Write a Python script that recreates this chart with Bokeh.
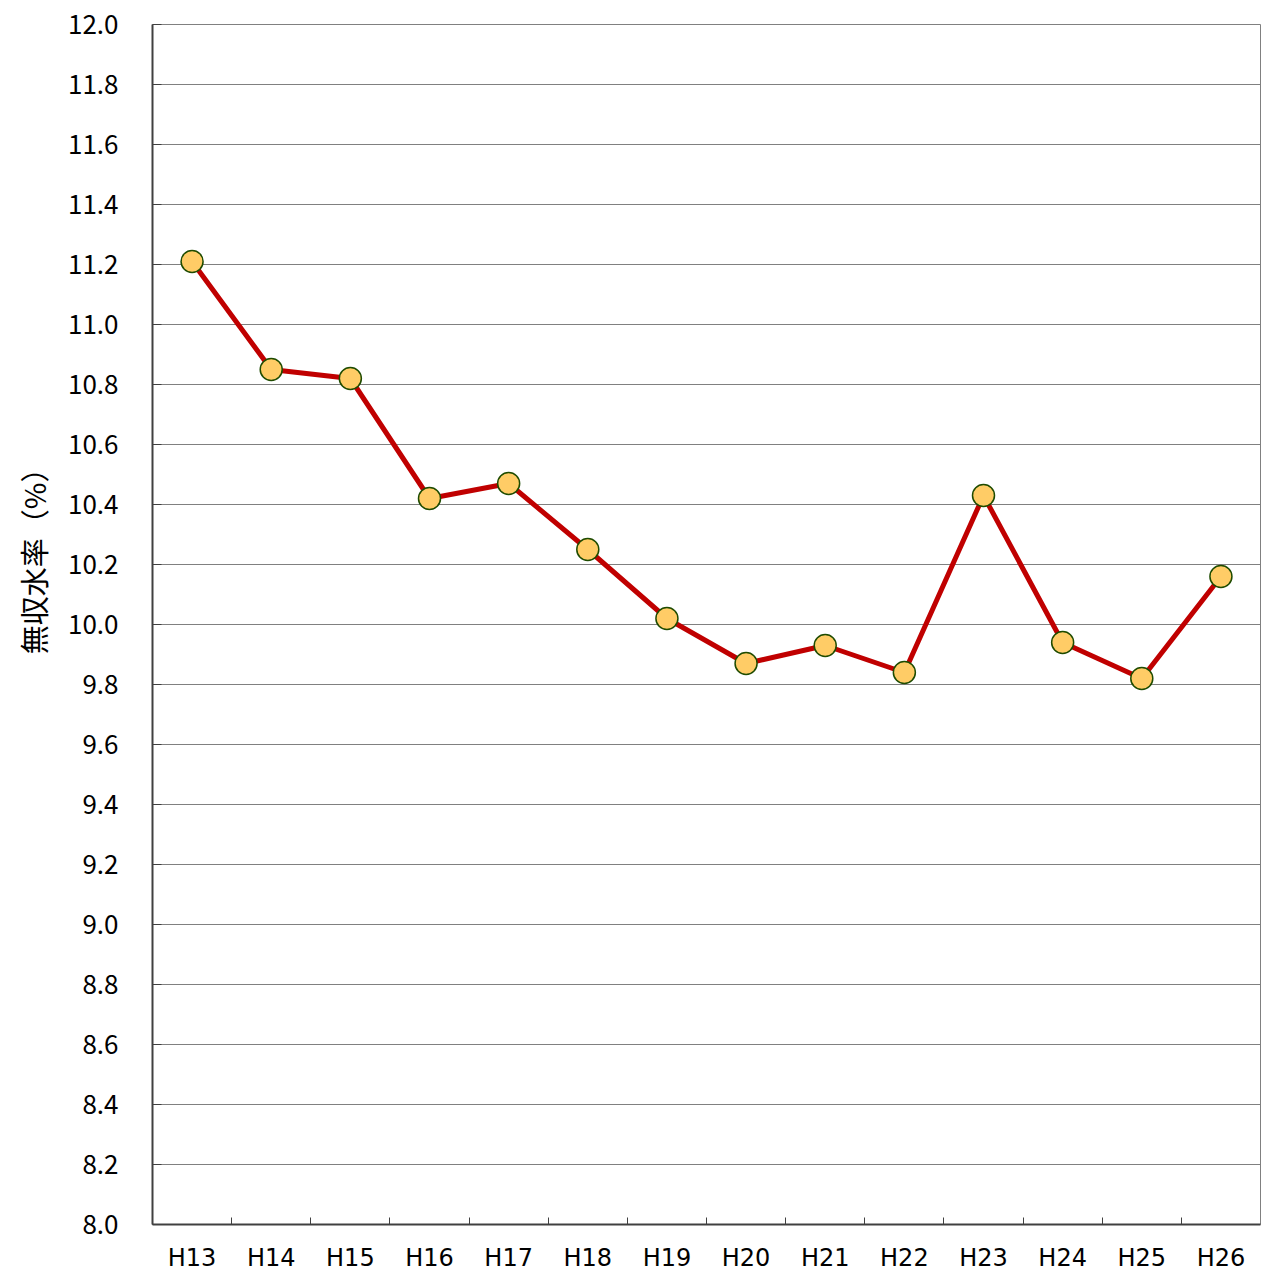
from bokeh.plotting import figure
from bokeh.models import (Range1d, LinearAxis, FixedTicker, PrintfTickFormatter, Title)
from bokeh.embed import file_html
from bokeh.resources import INLINE

categories = ["H13", "H14", "H15", "H16", "H17", "H18", "H19", "H20", "H21", "H22", "H23", "H24", "H25", "H26"]
values = [11.21, 10.85, 10.82, 10.42, 10.47, 10.25, 10.02, 9.87, 9.93, 9.84, 10.43, 9.94, 9.82, 10.16]
y_ticks = [8.0, 8.2, 8.4, 8.6, 8.8, 9.0, 9.2, 9.4, 9.6, 9.8, 10.0, 10.2, 10.4, 10.6, 10.8,
           11.0, 11.2, 11.4, 11.6, 11.8, 12.0]
y_title = "無収水率（%）"

FONT = "Noto Sans CJK JP"

n = len(categories)
xs = [i + 0.5 for i in range(n)]          # category centres
bounds = list(range(1, n))                # category boundaries

p = figure(frame_width=1108, frame_height=1200, x_range=Range1d(0, n), y_range=Range1d(8.0, 12.0),
           output_backend="svg", toolbar_location=None, x_axis_location=None,
           min_border_left=152, min_border_right=7, min_border_top=24, min_border_bottom=0)
p.background_fill_color = "white"
p.border_fill_color = "white"
p.outline_line_color = "#808080"
p.outline_line_width = 1

# y axis
ya = p.yaxis[0]
ya.ticker = FixedTicker(ticks=y_ticks)
ya.formatter = PrintfTickFormatter(format="%.1f")
ya.major_tick_in = 9
ya.major_tick_out = 0
ya.minor_tick_line_color = None
ya.major_tick_line_color = "#404040"
ya.major_tick_line_width = 1
ya.axis_line_color = "#404040"
ya.axis_line_width = 2
ya.major_label_text_font = FONT
ya.major_label_text_font_size = "26px"
ya.major_label_text_color = "black"
ya.major_label_standoff = 34

p.xgrid.grid_line_color = None
p.ygrid.ticker = FixedTicker(ticks=y_ticks)
p.ygrid.grid_line_color = "#808080"
p.ygrid.grid_line_width = 1

# boundary ticks between categories
ba = LinearAxis(ticker=FixedTicker(ticks=bounds),
                major_label_overrides={b: "" for b in bounds})
ba.major_tick_in = 7
ba.major_tick_out = 0
ba.minor_tick_line_color = None
ba.major_tick_line_color = "#404040"
ba.axis_line_color = "#404040"
ba.axis_line_width = 2
ba.major_label_text_font_size = "1px"
ba.major_label_text_color = None
ba.major_label_standoff = 0
p.add_layout(ba, "below")

# category labels
ca = LinearAxis(ticker=FixedTicker(ticks=xs),
                major_label_overrides={x: c for x, c in zip(xs, categories)})
ca.axis_line_color = None
ca.major_tick_line_color = None
ca.minor_tick_line_color = None
ca.major_label_text_font = "DejaVu Sans"
ca.major_label_text_font_size = "24px"
ca.major_label_text_color = "black"
ca.major_label_standoff = 13
p.add_layout(ca, "below")

p.line(xs, values, line_color="#C00000", line_width=5)
p.scatter(xs, values, size=22, fill_color="#FFCC66", line_color="#1E4B00", line_width=1.5)

t = Title(text=y_title, align="right", vertical_align="middle", offset=429, standoff=20,
          text_font=FONT, text_font_size="29px", text_font_style="normal", text_color="black")
p.add_layout(t, "left")

open("out.html", "w").write(file_html(p, INLINE))
